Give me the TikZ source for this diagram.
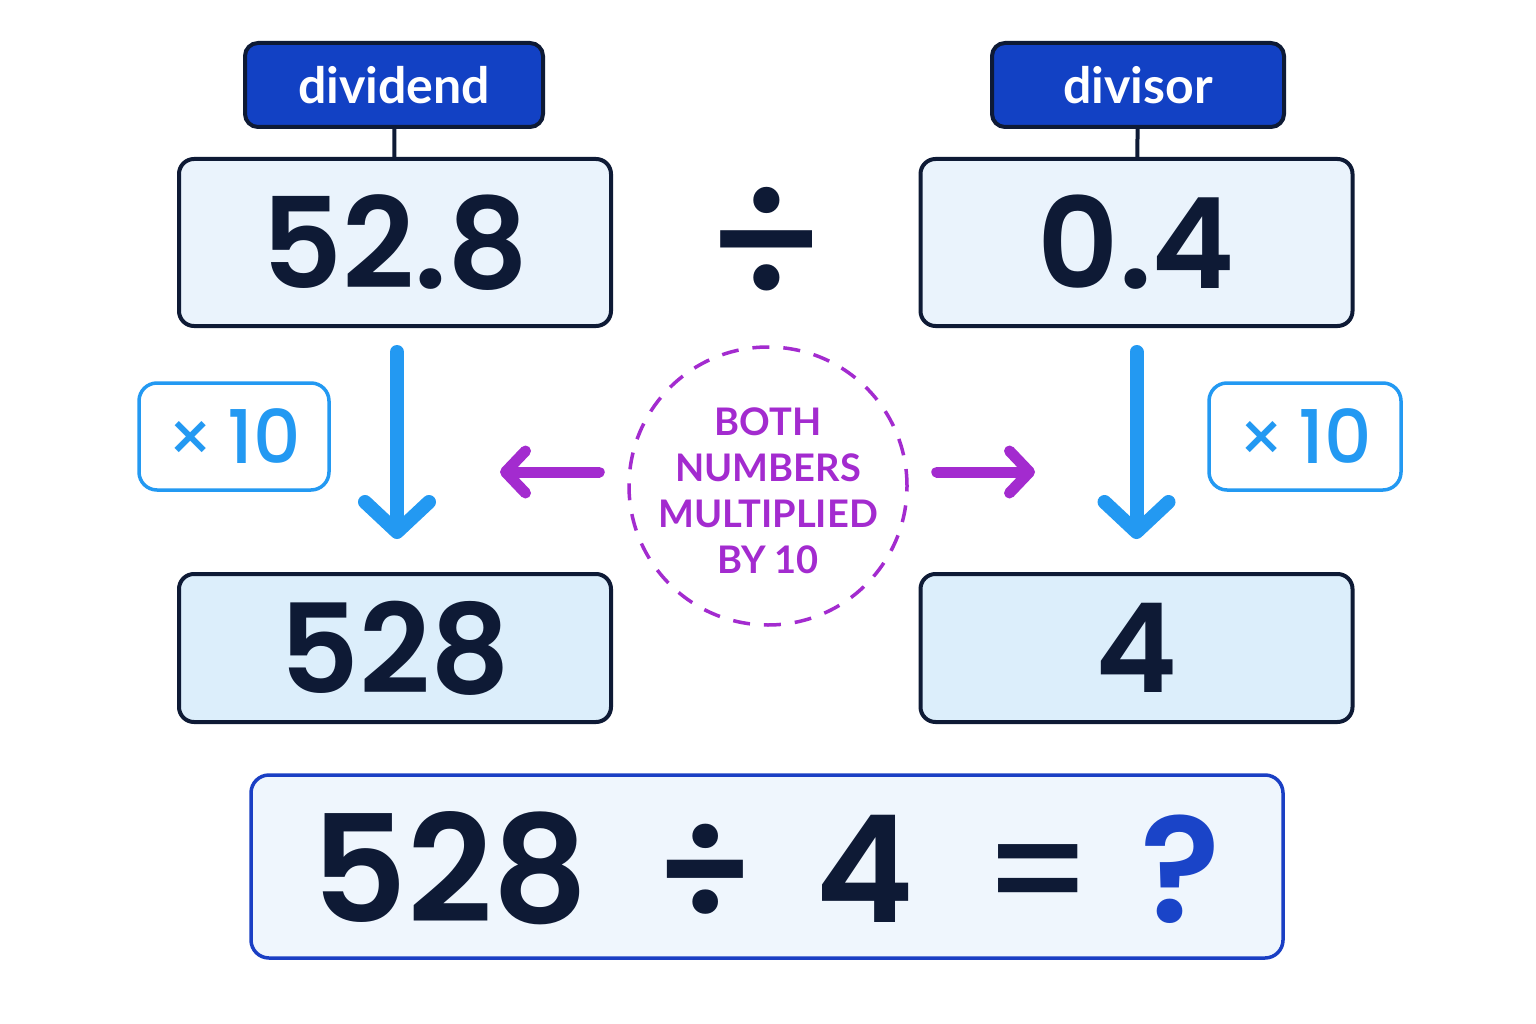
\documentclass[tikz,border=0pt]{standalone}
\usepackage{fontspec}
\setmainfont{Poppins}
\newfontfamily\latofont{Lato}
\newfontfamily\numfont{Poppins SemiBold}
\newfontfamily\medfont{Poppins Medium}
\usetikzlibrary{arrows.meta,calc}
\definecolor{navy}{HTML}{0E1A35}
\definecolor{tagblue}{HTML}{1241C4}
\definecolor{boxtop}{HTML}{EAF3FC}
\definecolor{boxbot}{HTML}{DCEEFB}
\definecolor{sky}{HTML}{2399F2}
\definecolor{purp}{HTML}{A32BCF}
\definecolor{eqblue}{HTML}{1A3FC4}
\definecolor{eqfill}{HTML}{EFF6FD}
\definecolor{qblue}{HTML}{1A44C8}

\begin{document}
\begin{tikzpicture}[x=1pt, y=-1pt,
	numbox/.style={draw=navy, line width=4pt, rounded corners=15pt, minimum width=432pt, text=navy},
	tag/.style={draw=navy, fill=tagblue, line width=4pt, rounded corners=13pt, minimum height=84pt, text=white, font=\latofont\bfseries\fontsize{50}{50}\selectfont},
	timesbox/.style={draw=sky, fill=white, line width=3.5pt, rounded corners=18pt, minimum height=107pt, text=sky},
	downarrow/.style={sky, line width=14pt, line cap=round, -{Straight Barb[length=30pt, width=64pt, round]}},
	sidearrow/.style={purp, line width=11pt, line cap=round, -{Straight Barb[length=20pt, width=42pt, round]}},
	eqtext/.style={anchor=base, text=navy, font=\numfont\fontsize{149}{149}\selectfont}]
			%%%%% START %%%%%
			
			\fill[white] (0, 0) rectangle (1536, 1024);
			\useasboundingbox (0, 0) rectangle (1536, 1024);
			
			\node[tag, minimum width=298pt] (dvdtag) at (394, 85) {dividend};
			\node[tag, minimum width=292pt] (dvstag) at (1138, 85) {divisor};
			
			\node[numbox, fill=boxtop, minimum height=167pt, font=\numfont\fontsize{126}{126}\selectfont] (dvd) at (395, 242.5) {52.8};
			\node[numbox, fill=boxtop, minimum height=167pt, font=\numfont\fontsize{126}{126}\selectfont] (dvs) at (1136.5, 242.5) {0.4};
			\draw[navy, line width=4pt] (dvdtag) -- (dvd);
			\draw[navy, line width=4pt] (dvstag) -- (dvs);
			
			\node[text=navy, anchor=base, font=\medfont\fontsize{180}{180}\selectfont] (divsign) at (766, 305) {÷};
			
			\node[numbox, fill=boxbot, minimum height=148pt, font=\numfont\fontsize{124}{124}\selectfont] (dvdnew) at (395, 648) {528};
			\node[numbox, fill=boxbot, minimum height=148pt, font=\numfont\fontsize{124}{124}\selectfont] (dvsnew) at (1136.5, 648) {4};
			
			\draw[downarrow] ([xshift=2pt, yshift=-24pt]dvd.south) -- ([xshift=2pt, yshift=33pt]dvdnew.north);
			\draw[downarrow] ([yshift=-24pt]dvs.south) -- ([yshift=33pt]dvsnew.north);
			
			\node[timesbox, minimum width=190pt] (tleft) at (234, 436.5) {{\fontsize{72}{72}\selectfont ×}\hspace{14pt}{\medfont\fontsize{74}{74}\selectfont 10}};
			\node[timesbox, minimum width=192pt] (tright) at (1305, 436.5) {{\fontsize{72}{72}\selectfont ×}\hspace{14pt}{\medfont\fontsize{74}{74}\selectfont 10}};
			
			\node[circle, draw=purp, line width=3.5pt, dash pattern=on 17pt off 14pt, minimum size=278pt] (ring) at (768, 486) {};
			\node[text=purp, align=center, font=\latofont\bfseries\fontsize{38}{46}\selectfont] (both) at (768, 491) {BOTH\\NUMBERS\\MULTIPLIED\\BY 10};
			
			\coordinate (ltip) at (500, 472);
			\coordinate (rtip) at (1035, 472);
			\draw[sidearrow] ([xshift=-28pt, yshift=14pt]ring.west) -- (ltip);
			\draw[sidearrow] ([xshift=28pt, yshift=14pt]ring.east) -- (rtip);
			
			\node[draw=eqblue, fill=eqfill, line width=3.5pt, rounded corners=18pt, minimum width=1032pt, minimum height=183pt] (eq) at (767, 866.5) {};
			\node[eqtext] (eqa) at (450, 922) {528};
			\node[eqtext] (eqb) at (705, 922) {÷};
			\node[eqtext] (eqc) at (865, 922) {4};
			\node[eqtext, font=\medfont\fontsize{149}{149}\selectfont] (eqd) at (1038, 922) {=};
			\node[eqtext, text=qblue] (eqe) at (1181, 922) {?};
			
			%%%%% END %%%%%
		\end{tikzpicture}
\end{document}
